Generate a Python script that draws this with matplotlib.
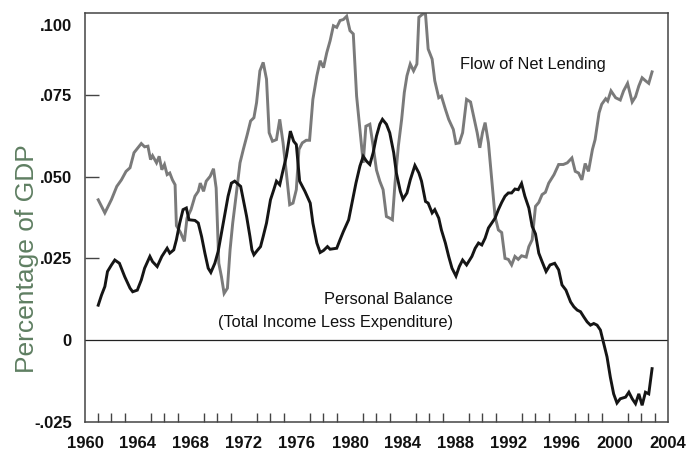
import matplotlib
matplotlib.use("Agg")
import matplotlib.pyplot as plt
import matplotlib.transforms as mtransforms
from matplotlib import font_manager

# Flow of Net Lending (gray)
lend_years = [1961.0, 1961.5, 1962.0, 1962.4, 1962.75, 1963.1, 1963.4, 1963.7, 1964.0, 1964.25,
              1964.5, 1964.75, 1964.95, 1965.1, 1965.4, 1965.6, 1965.8, 1966.0, 1966.2, 1966.4,
              1966.6, 1966.8, 1966.9, 1967.2, 1967.5, 1967.7, 1968.0, 1968.3, 1968.55, 1968.7,
              1968.95, 1969.15, 1969.45, 1969.7, 1969.9, 1970.1, 1970.3, 1970.5, 1970.75, 1970.95,
              1971.15, 1971.4, 1971.7, 1971.95, 1972.25, 1972.5, 1972.75, 1972.95, 1973.2, 1973.45,
              1973.7, 1973.9, 1974.15, 1974.45, 1974.7, 1974.95, 1975.2, 1975.45, 1975.7, 1975.95,
              1976.15, 1976.4, 1976.7, 1976.95, 1977.2, 1977.5, 1977.75, 1978.0, 1978.25, 1978.5,
              1978.75, 1979.0, 1979.25, 1979.5, 1979.75, 1980.0, 1980.25, 1980.5, 1980.75, 1981.0,
              1981.2, 1981.5, 1981.75, 1982.0, 1982.25, 1982.5, 1982.75, 1983.0, 1983.2, 1983.4,
              1983.65, 1983.9, 1984.1, 1984.3, 1984.55, 1984.8, 1985.05, 1985.2, 1985.5, 1985.7,
              1985.9, 1986.2, 1986.4, 1986.7, 1986.9, 1987.2, 1987.45, 1987.8, 1988.0, 1988.25,
              1988.5, 1988.8, 1989.1, 1989.3, 1989.6, 1989.8, 1990.0, 1990.2, 1990.45, 1990.7,
              1990.95, 1991.2, 1991.45, 1991.7, 1991.95, 1992.2, 1992.45, 1992.7, 1992.95, 1993.3,
              1993.5, 1993.75, 1994.0, 1994.25, 1994.5, 1994.75, 1995.0, 1995.4, 1995.75, 1996.1,
              1996.4, 1996.75, 1997.0, 1997.25, 1997.5, 1997.75, 1998.0, 1998.3, 1998.5, 1998.8,
              1999.0, 1999.3, 1999.45, 1999.7, 2000.05, 2000.4, 2000.65, 2000.95, 2001.3, 2001.55,
              2001.8, 2002.05, 2002.3, 2002.55, 2002.8]
lend_vals = [0.0429, 0.0389, 0.0430, 0.0470, 0.0490, 0.0516, 0.0527, 0.0573, 0.0588, 0.0601,
             0.0591, 0.0593, 0.0552, 0.0564, 0.0542, 0.0562, 0.0521, 0.0537, 0.0506, 0.0511,
             0.0490, 0.0475, 0.0350, 0.0330, 0.0302, 0.0373, 0.0399, 0.0440, 0.0455, 0.0480,
             0.0455, 0.0486, 0.0501, 0.0524, 0.0465, 0.0235, 0.0194, 0.0143, 0.0159, 0.0276,
             0.0358, 0.0440, 0.0542, 0.0583, 0.0629, 0.0670, 0.0680, 0.0726, 0.0823, 0.0849,
             0.0798, 0.0634, 0.0608, 0.0613, 0.0675, 0.0603, 0.0511, 0.0414, 0.0419, 0.0460,
             0.0583, 0.0603, 0.0611, 0.0611, 0.0736, 0.0808, 0.0854, 0.0833, 0.0879, 0.0915,
             0.0961, 0.0956, 0.0977, 0.0980, 0.0990, 0.0946, 0.0936, 0.0746, 0.0644, 0.0542,
             0.0654, 0.0660, 0.0593, 0.0520, 0.0486, 0.0460, 0.0378, 0.0373, 0.0368, 0.0480,
             0.0593, 0.0675, 0.0757, 0.0808, 0.0844, 0.0823, 0.0844, 0.0987, 0.0997, 0.0997,
             0.0890, 0.0859, 0.0793, 0.0741, 0.0746, 0.0706, 0.0675, 0.0644, 0.0601, 0.0603,
             0.0634, 0.0736, 0.0728, 0.0690, 0.0634, 0.0588, 0.0634, 0.0665, 0.0603, 0.0490,
             0.0378, 0.0337, 0.0329, 0.0250, 0.0247, 0.0230, 0.0256, 0.0247, 0.0258, 0.0254,
             0.0286, 0.0307, 0.0409, 0.0421, 0.0445, 0.0452, 0.0480, 0.0506, 0.0537, 0.0537,
             0.0542, 0.0557, 0.0516, 0.0511, 0.0490, 0.0540, 0.0516, 0.0583, 0.0613, 0.0695,
             0.0721, 0.0738, 0.0731, 0.0762, 0.0741, 0.0734, 0.0762, 0.0785, 0.0728, 0.0744,
             0.0777, 0.0802, 0.0793, 0.0785, 0.0820]

# Personal Balance (black)
bal_years = [1961.0, 1961.25, 1961.5, 1961.7, 1962.0, 1962.25, 1962.6, 1963.0, 1963.4, 1963.6,
             1963.95, 1964.25, 1964.5, 1964.9, 1965.1, 1965.45, 1965.8, 1966.2, 1966.4, 1966.7,
             1966.9, 1967.15, 1967.4, 1967.65, 1967.85, 1968.3, 1968.55, 1968.8, 1969.05, 1969.3,
             1969.5, 1969.8, 1970.05, 1970.3, 1970.55, 1970.8, 1971.05, 1971.3, 1971.75, 1971.95,
             1972.2, 1972.45, 1972.6, 1972.75, 1973.0, 1973.25, 1973.45, 1973.7, 1974.0, 1974.25,
             1974.45, 1974.7, 1974.9, 1975.2, 1975.5, 1975.75, 1975.95, 1976.2, 1976.6, 1977.0,
             1977.2, 1977.5, 1977.75, 1978.0, 1978.3, 1978.5, 1979.0, 1979.25, 1979.5, 1979.9,
             1980.1, 1980.45, 1980.75, 1981.0, 1981.25, 1981.5, 1981.75, 1982.0, 1982.25, 1982.45,
             1982.75, 1983.0, 1983.3, 1983.5, 1983.8, 1984.0, 1984.3, 1984.55, 1984.9, 1985.2,
             1985.4, 1985.7, 1985.9, 1986.2, 1986.4, 1986.7, 1986.9, 1987.2, 1987.45, 1987.7,
             1988.0, 1988.25, 1988.5, 1988.8, 1989.2, 1989.45, 1989.7, 1989.95, 1990.2, 1990.45,
             1990.7, 1990.95, 1991.2, 1991.45, 1991.7, 1991.95, 1992.2, 1992.45, 1992.7, 1992.95,
             1993.2, 1993.5, 1993.75, 1994.0, 1994.25, 1994.5, 1994.8, 1995.1, 1995.45, 1995.75,
             1996.0, 1996.3, 1996.65, 1996.9, 1997.15, 1997.4, 1997.65, 1997.9, 1998.15, 1998.4,
             1998.65, 1998.9, 1999.15, 1999.4, 1999.65, 1999.9, 2000.15, 2000.4, 2000.8, 2001.05,
             2001.3, 2001.55, 2001.8, 2002.05, 2002.3, 2002.55, 2002.8]
bal_vals = [0.0107, 0.0138, 0.0164, 0.0210, 0.0230, 0.0245, 0.0235, 0.0194, 0.0159, 0.0148,
            0.0153, 0.0184, 0.0220, 0.0256, 0.0240, 0.0225, 0.0256, 0.0281, 0.0266, 0.0276,
            0.0307, 0.0358, 0.0399, 0.0404, 0.0368, 0.0366, 0.0358, 0.0317, 0.0266, 0.0220,
            0.0207, 0.0235, 0.0271, 0.0327, 0.0383, 0.0440, 0.0480, 0.0486, 0.0470, 0.0429,
            0.0378, 0.0317, 0.0276, 0.0261, 0.0274, 0.0286, 0.0317, 0.0358, 0.0429, 0.0460,
            0.0486, 0.0475, 0.0511, 0.0562, 0.0639, 0.0608, 0.0598, 0.0486, 0.0455, 0.0419,
            0.0358, 0.0297, 0.0268, 0.0274, 0.0286, 0.0278, 0.0281, 0.0307, 0.0332, 0.0368,
            0.0409, 0.0480, 0.0532, 0.0562, 0.0547, 0.0537, 0.0573, 0.0624, 0.0660, 0.0675,
            0.0660, 0.0634, 0.0573, 0.0511, 0.0455, 0.0431, 0.0450, 0.0490, 0.0534, 0.0511,
            0.0486, 0.0424, 0.0419, 0.0389, 0.0399, 0.0373, 0.0337, 0.0297, 0.0256, 0.0220,
            0.0196, 0.0225, 0.0245, 0.0230, 0.0256, 0.0281, 0.0297, 0.0291, 0.0312, 0.0343,
            0.0358, 0.0373, 0.0399, 0.0421, 0.0440, 0.0450, 0.0450, 0.0462, 0.0460, 0.0479,
            0.0440, 0.0404, 0.0348, 0.0325, 0.0266, 0.0240, 0.0210, 0.0230, 0.0235, 0.0215,
            0.0169, 0.0153, 0.0117, 0.0102, 0.0092, 0.0087, 0.0071, 0.0056, 0.0046, 0.0051,
            0.0046, 0.0031, -0.0010, -0.0051, -0.0113, -0.0164, -0.0192, -0.0179, -0.0174, -0.0159,
            -0.0179, -0.0194, -0.0164, -0.0199, -0.0159, -0.0164, -0.0087]

ytick_vals = [-0.025, 0, 0.025, 0.050, 0.075, 0.100]
ytick_labels = ["-.025", "0", ".025", ".050", ".075", ".100"]
xlabel_years = list(range(1960, 2005, 4))
minor_years = list(range(1961, 2004))

names = {f.name for f in font_manager.fontManager.ttflist}
tick_font = "Liberation Sans Narrow" if "Liberation Sans Narrow" in names else "Liberation Sans"
tick_size = 13.5 if tick_font == "Liberation Sans Narrow" else 12
plt.rcParams["font.family"] = ["Liberation Sans", "DejaVu Sans"]

SPINE = "#444444"

fig = plt.figure(figsize=(6.87, 4.54), dpi=100)
ax = fig.add_axes([0.1237, 0.0705, 0.8486, 0.9009])

ax.plot(lend_years, lend_vals, color="#7a7a7a", lw=2.1, solid_joinstyle="miter")
ax.plot(bal_years, bal_vals, color="#151515", lw=2.1, solid_joinstyle="miter")
ax.axhline(0, color="#222222", lw=0.9)

ax.set_xlim(1960, 2004)
ax.set_ylim(-0.025, 0.100)

for s in ax.spines.values():
    s.set_color(SPINE)
    s.set_linewidth(1.1)

# y ticks: labels everywhere, marks only on the inner values
ax.set_yticks(ytick_vals, ytick_labels)
ax.tick_params(axis="y", direction="in", length=10, width=1.0, color=SPINE, pad=9.5)
for t, v in zip(ax.yaxis.get_major_ticks(), ytick_vals):
    if v in (-0.025, 0, 0.100):
        t.tick1line.set_visible(False)

# x: year labels every 4 years, small marks every year
ax.set_xticks(xlabel_years, [str(y) for y in xlabel_years])
ax.tick_params(axis="x", which="major", length=0, pad=10)
ax.set_xticks(minor_years, minor=True)
ax.tick_params(axis="x", which="minor", direction="in", length=6.5, width=1.0, color=SPINE)

for lbl in ax.get_xticklabels() + ax.get_yticklabels():
    lbl.set_fontfamily(tick_font)
    lbl.set_fontweight("bold")
    lbl.set_fontsize(tick_size)
    lbl.set_color("#111111")

# the top label sits a little below the frame
top = ax.get_yticklabels()[-1]
top.set_transform(top.get_transform() + mtransforms.ScaledTranslation(0, -12 / 100, fig.dpi_scale_trans))

ax.set_ylabel("Percentage of GDP", fontsize=19, color="#5f7f62", va="center")
ax.yaxis.set_label_coords(-0.100, 0.40)

ax.text(1988.3, 0.0844, "Flow of Net Lending", fontsize=11.8, color="#111111", ha="left", va="center")
ax.text(1987.8, 0.0125, "Personal Balance", fontsize=11.8, color="#111111", ha="right", va="center")
ax.text(1987.8, 0.0054, "(Total Income Less Expenditure)", fontsize=11.8, color="#111111",
        ha="right", va="center")

fig.savefig("out.png", dpi=100)
